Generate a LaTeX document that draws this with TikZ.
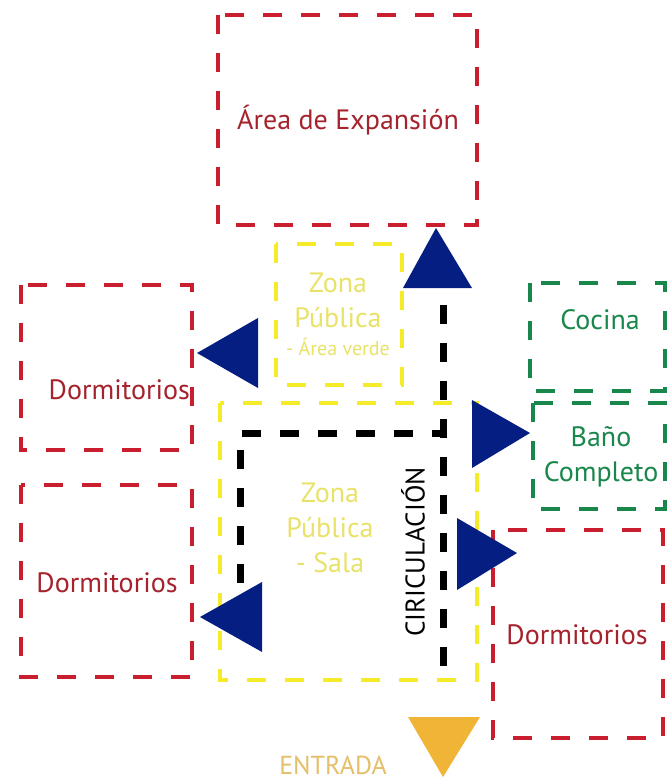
\documentclass[tikz,border=0pt]{standalone}
\usepackage{fontspec}
\setmainfont{PT Sans}
\definecolor{planred}{RGB}{200,30,45}
\definecolor{textred}{RGB}{165,35,45}
\definecolor{planyellow}{RGB}{245,235,40}
\definecolor{textyellow}{RGB}{232,226,105}
\definecolor{plangreen}{RGB}{25,135,75}
\definecolor{navy}{RGB}{5,30,130}
\definecolor{entrada}{RGB}{240,180,55}
\definecolor{textentrada}{RGB}{228,190,105}
\tikzset{
  zone/.style={dash pattern=on 19pt off 19pt, line width=4.5pt},
  circ/.style={dash pattern=on 19pt off 19pt, line width=7pt, black},
  ztext/.style={font=\fontsize{28}{35}\selectfont, align=center, inner sep=0pt},
}
\begin{document}
\begin{tikzpicture}[x=1pt,y=-1pt]
\useasboundingbox (0,0) rectangle (667,780);
% Zones
\draw[zone, planred] (218,15) rectangle (477,225);
\node[ztext, textred] (expansion) at (348,120) {Área de Expansión};
\draw[zone, planred] (21,285) rectangle (192,450);
\node[ztext, textred, anchor=east] (dormA) at (190,390) {Dormitorios};
\draw[zone, planred] (21,485) rectangle (192,677);
\node[ztext, textred] (dormB) at (107,583) {Dormitorios};
\draw[zone, planred] (493,530) rectangle (663,738);
\node[ztext, textred] (dormC) at (577,635) {Dormitorios};
\draw[zone, plangreen] (530,283) rectangle (665,391);
\node[ztext, plangreen] (cocina) at (600,320) {Cocina};
\draw[zone, plangreen] (533,403) rectangle (665,509);
\node[ztext, plangreen] (bano) at (601,457) {Baño\\Completo};
\draw[zone, planyellow, line width=4pt] (276,244) rectangle (402,385);
\node[ztext, textyellow] (verde) at (338,300) {Zona\\Pública};
\node[ztext, textyellow, font=\fontsize{20}{24}\selectfont] (verdeB) at (338,347) {- Área verde};
\draw[zone, planyellow, line width=4pt] (220,403) rectangle (477,680);
\node[ztext, textyellow] (sala) at (330,528) {Zona\\Pública\\- Sala};

% Circulation
\draw[circ] (240,583) -- (240,433) -- (443,433);
\draw[circ] (443,305) -- (443,670);
\node[ztext, black, rotate=90, font=\fontsize{27}{30}\selectfont] (circulacion) at (413,552) {CIRICULACIÓN};

% Access arrows
\fill[navy] (436,228) -- (472,288) -- (403,288) -- cycle;
\fill[navy] (197,353) -- (258,318) -- (258,388) -- cycle;
\fill[navy] (200,617) -- (262,582) -- (262,652) -- cycle;
\fill[navy] (530,433) -- (472,400) -- (472,468) -- cycle;
\fill[navy] (517,553) -- (457,518) -- (457,590) -- cycle;
\fill[entrada] (443,777) -- (408,717) -- (480,717) -- cycle;
\node[ztext, textentrada, font=\fontsize{26}{30}\selectfont] (entrada) at (333,765) {ENTRADA};
\end{tikzpicture}
\end{document}
